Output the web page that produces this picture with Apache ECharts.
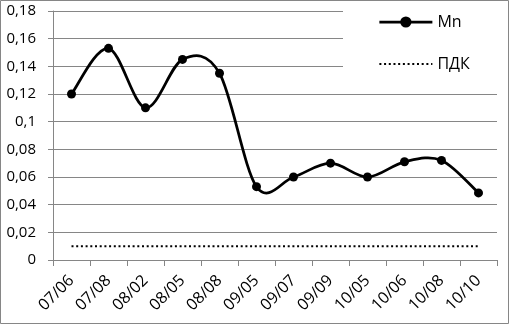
<!DOCTYPE html>
<html>
<head>
<meta charset="utf-8">
<script src="https://cdn.jsdelivr.net/npm/echarts@6/dist/echarts.min.js"></script>
<style>
html,body{margin:0;padding:0;background:#fff;}
#c{width:509px;height:324px;}
</style>
</head>
<body>
<div id="c"></div>
<script>
const categories = ['07/06','07/08','08/02','08/05','08/08','09/05','09/07','09/09','10/05','10/06','10/08','10/10'];
const mnValues = [0.12, 0.153, 0.11, 0.145, 0.135, 0.053, 0.06, 0.07, 0.06, 0.071, 0.072, 0.0485];
const pdkValues = [0.01, 0.01, 0.01, 0.01, 0.01, 0.01, 0.01, 0.01, 0.01, 0.01, 0.01, 0.01];
const yMin = 0, yMax = 0.18, yStep = 0.02;

const FONT = 'Open Sans';
const n = mnValues.length;

// smooth curve through the Mn points (Catmull-Rom style, like a spreadsheet's smoothed line)
function renderCurve(params, api) {
  const i = params.dataIndex;
  if (i >= n - 1) return null;
  const c = k => { k = Math.max(0, Math.min(n - 1, k)); return api.coord([k, mnValues[k]]); };
  const p0 = c(i - 1), p1 = c(i), p2 = c(i + 1), p3 = c(i + 2);
  const t = 1 / 6;
  return {
    type: 'bezierCurve',
    shape: {
      x1: p1[0], y1: p1[1], x2: p2[0], y2: p2[1],
      cpx1: p1[0] + (p2[0] - p0[0]) * t, cpy1: p1[1] + (p2[1] - p0[1]) * t,
      cpx2: p2[0] - (p3[0] - p1[0]) * t, cpy2: p2[1] - (p3[1] - p1[1]) * t
    },
    style: {stroke: '#000', lineWidth: 2.75, fill: null, lineCap: 'round'}
  };
}

const chart = echarts.init(document.getElementById('c'), null, {renderer: 'canvas'});
chart.setOption({
  animation: false,
  backgroundColor: '#fff',
  textStyle: {fontFamily: FONT, color: '#000'},
  grid: {left: 53, right: 12, top: 11, bottom: 64, containLabel: false},
  graphic: [
    {type: 'rect', z: 1, shape: {x: 343, y: 1, width: 154, height: 76}, style: {fill: '#fff'}},
    {type: 'rect', z: 10, shape: {x: 0.5, y: 0.5, width: 508, height: 323}, style: {fill: 'none', stroke: '#868686', lineWidth: 1}}
  ],
  legend: {
    orient: 'vertical',
    left: 378, top: 14,
    padding: 0,
    itemWidth: 53, itemHeight: 14, itemGap: 26,
    textStyle: {fontFamily: FONT, fontSize: 16, color: '#000'},
    data: [
      {name: 'Mn', lineStyle: {width: 2.75, color: '#000', opacity: 1}},
      {name: 'ПДК', itemStyle: {opacity: 0}, lineStyle: {width: 2, color: '#000', opacity: 1, type: [2, 2.7]}}
    ]
  },
  xAxis: {
    type: 'category',
    data: categories,
    boundaryGap: true,
    axisLine: {lineStyle: {color: '#868686', width: 1}},
    axisTick: {show: true, length: 6, lineStyle: {color: '#868686'}},
    axisLabel: {rotate: 45, margin: 18, padding: [17, 0, 0, 0], fontSize: 16, fontFamily: FONT, color: '#000', interval: 0}
  },
  yAxis: {
    type: 'value',
    min: yMin, max: yMax, interval: yStep,
    axisLine: {show: true, lineStyle: {color: '#868686', width: 1}},
    axisTick: {show: true, length: 5, lineStyle: {color: '#868686'}},
    splitLine: {show: true, lineStyle: {color: '#868686', width: 1}},
    axisLabel: {
      margin: 17, fontSize: 15, fontFamily: FONT, color: '#000',
      formatter: v => (Math.round(v * 100) / 100).toString().replace('.', ',')
    }
  },
  series: [
    {
      name: 'Mn-curve', type: 'custom', data: mnValues.map((v, i) => [i, v]),
      encode: {x: 0, y: 1},
      renderItem: renderCurve,
      silent: true, z: 3
    },
    {
      name: 'Mn', type: 'line', data: mnValues,
      symbol: 'circle', symbolSize: 9,
      lineStyle: {color: '#000', width: 0, opacity: 0},
      itemStyle: {color: '#000'},
      z: 4
    },
    {
      name: 'ПДК', type: 'line', data: pdkValues,
      symbol: 'none',
      lineStyle: {color: '#000', width: 2, type: [2, 2.7]},
      itemStyle: {color: '#000'},
      z: 3
    }
  ]
});
</script>
</body>
</html>
